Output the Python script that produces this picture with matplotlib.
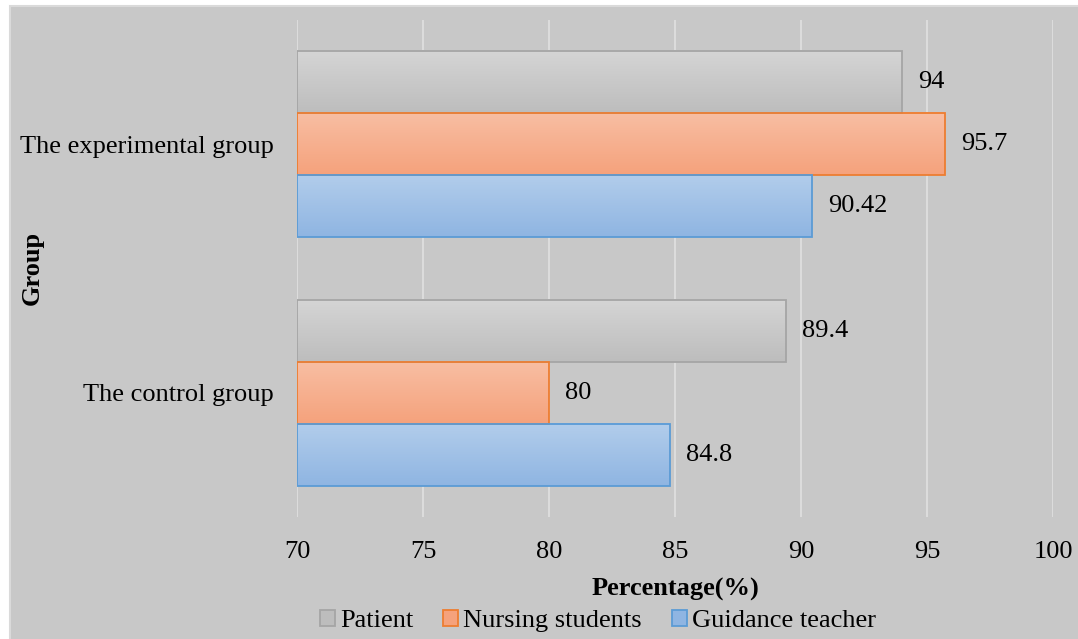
import numpy as np
import matplotlib.pyplot as plt
from matplotlib.patches import Rectangle, Patch
from matplotlib.colors import LinearSegmentedColormap

plt.rcParams['font.family'] = ['Liberation Serif', 'DejaVu Serif']

groups = ['The control group', 'The experimental group']
series = ['Patient', 'Nursing students', 'Guidance teacher']
patient = [89.4, 94]
nursing = [80, 95.7]
guidance = [84.8, 90.42]
value_labels = [['89.4', '94'], ['80', '95.7'], ['84.8', '90.42']]

# top colour, bottom colour, edge colour for each series
fills = [('#d5d5d5', '#bdbdbd', '#a5a5a5'),
         ('#f8bea3', '#f5a27c', '#ed7d31'),
         ('#b2cdeb', '#8fb5e2', '#5b9bd5')]

FS = 19

fig = plt.figure(figsize=(10.78, 6.39), dpi=100)
fig.patch.set_facecolor('white')
fig.patches.append(Rectangle((10 / 1078, -0.01), 1.0, 1 - 6 / 639 + 0.01,
                             transform=fig.transFigure, facecolor='#c8c8c8',
                             edgecolor='#dadada', linewidth=1.5, zorder=-5))

ax = fig.add_axes([297 / 1078, 1 - 517 / 639, 756 / 1078, 497 / 639])
ax.set_facecolor('none')

y = np.arange(len(groups))
h = 0.25
offsets = [h, 0, -h]
base = 70

for vals, off, (c_top, c_bot, c_edge), labels in zip([patient, nursing, guidance], offsets, fills, value_labels):
    bars = ax.barh(y + off, np.array(vals) - base, left=base, height=h,
                   color='none', edgecolor=c_edge, linewidth=1.3, zorder=3)
    cmap = LinearSegmentedColormap.from_list('g', [c_top, c_bot])
    grad = np.linspace(0, 1, 64).reshape(-1, 1)
    for b, lab in zip(bars, labels):
        x0, y0, w, hh = b.get_x(), b.get_y(), b.get_width(), b.get_height()
        ax.imshow(grad, cmap=cmap, aspect='auto', origin='upper',
                  extent=(x0, x0 + w, y0, y0 + hh), zorder=2)
        ax.text(x0 + w + 0.65, y0 + hh / 2, lab, va='center', ha='left',
                fontsize=FS, color='black')

ax.set_xlim(70, 100)
ax.set_ylim(-0.5, 1.5)
ax.set_xticks(np.arange(70, 101, 5))
ax.set_yticks(y)
ax.set_yticklabels(groups)
ax.tick_params(axis='both', length=0, labelsize=FS)
ax.tick_params(axis='y', pad=17)
ax.tick_params(axis='x', pad=17.5)
ax.grid(axis='x', color='#dcdcdc', linewidth=1.5, zorder=1)
ax.set_axisbelow(True)
for s in ax.spines.values():
    s.set_visible(False)

ax.set_xlabel('Percentage(%)', fontsize=FS, fontweight='bold', labelpad=10.5)
fig.text(32 / 1078, 1 - 268 / 639, 'Group', rotation=90, fontsize=FS,
         fontweight='bold', ha='center', va='center')

handles = [Patch(facecolor=f[1], edgecolor=f[2], linewidth=1.3) for f in fills]
fig.legend(handles, series, loc='center', bbox_to_anchor=(598 / 1078, 1 - 621 / 639),
           ncol=3, frameon=False, fontsize=FS, handlelength=0.55, handleheight=0.55,
           handletextpad=0.2, columnspacing=1.15)

fig.savefig('out.png', dpi=100, facecolor=fig.get_facecolor())
